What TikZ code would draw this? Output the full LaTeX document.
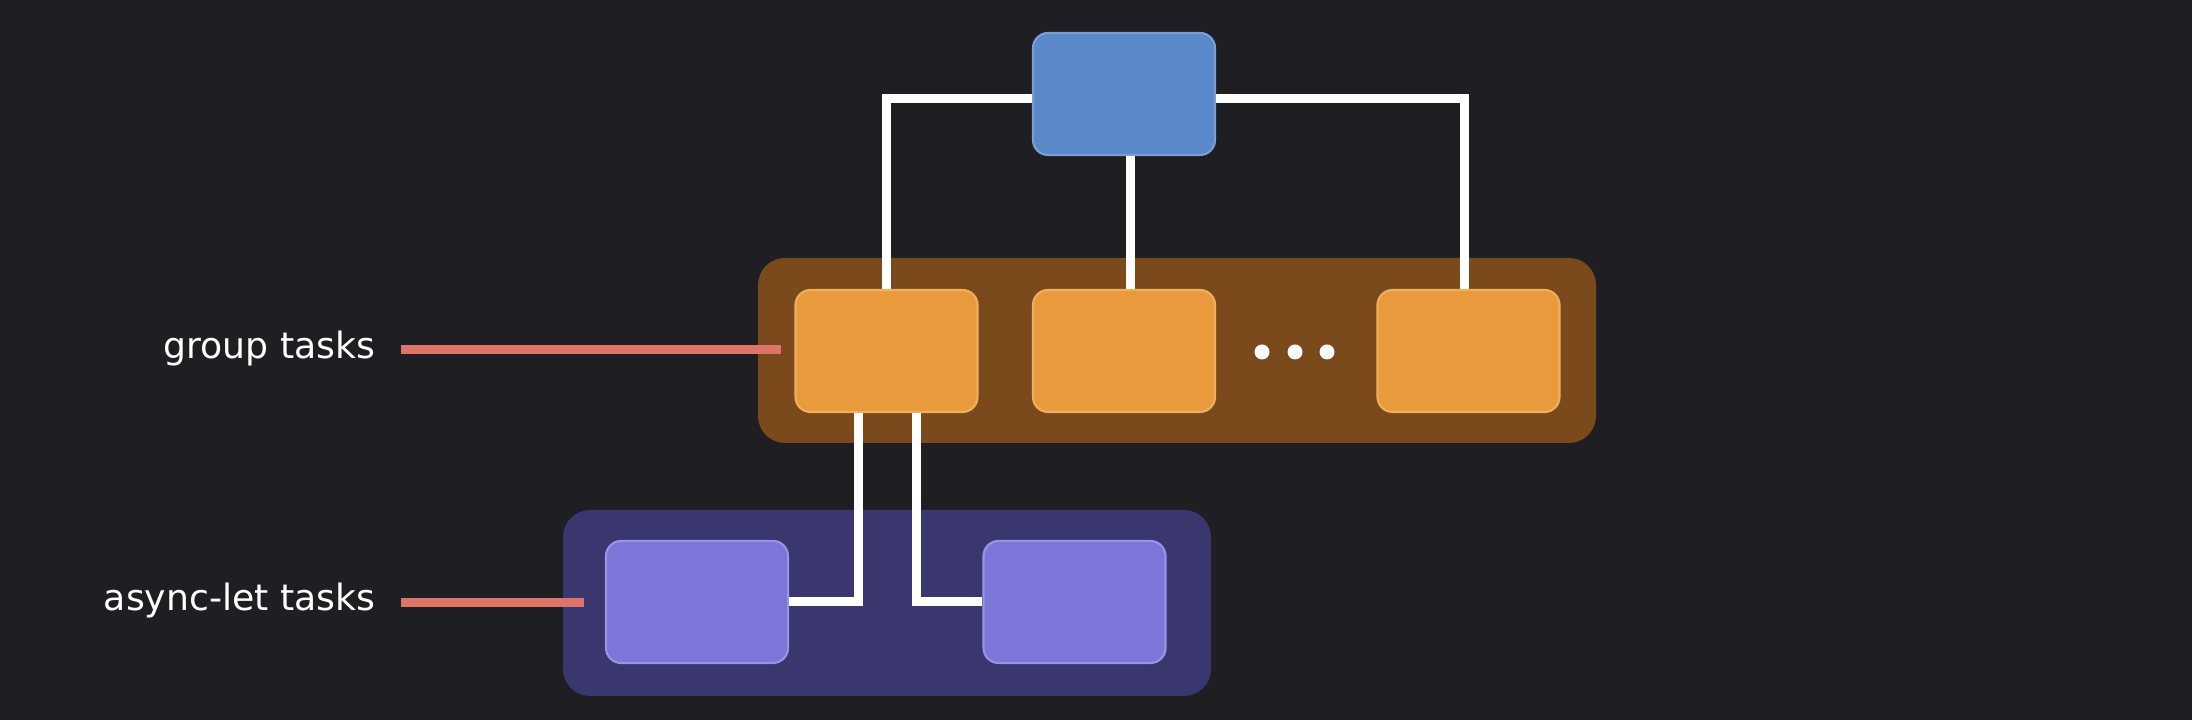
\documentclass[tikz,border=0pt]{standalone}
\usepackage{fontspec}
\setmainfont{DejaVu Sans}
\definecolor{bgdark}{HTML}{1F1E23}
\definecolor{rootblue}{HTML}{5B88C8}
\definecolor{rootedge}{HTML}{7A9ED6}
\definecolor{grpfill}{HTML}{E89A3C}
\definecolor{grpedge}{HTML}{F0AE5E}
\definecolor{grpband}{HTML}{7B4A1C}
\definecolor{asyfill}{HTML}{7B76D8}
\definecolor{asyedge}{HTML}{9894E6}
\definecolor{asyband}{HTML}{3A366E}
\definecolor{marker}{HTML}{DE7468}
\begin{document}
\begin{tikzpicture}[
    task/.style={draw, rectangle, rounded corners=0.15cm, line width=0.6pt, minimum height=1.22cm, minimum width=1.82cm, inner sep=0pt},
    band/.style={rectangle, rounded corners=0.27cm, inner sep=0pt},
    link/.style={draw=white, line width=0.09cm},
    pointer/.style={draw=marker, line width=0.09cm},
    caption/.style={text=white, inner sep=0pt, font=\fontsize{10.3}{12}\selectfont}
  ]

    % Background
    \fill[bgdark] (0,0) rectangle (21.92,7.2);
    \useasboundingbox (0,0) rectangle (21.92,7.2);

    % Bands
    \node[band, fill=grpband, minimum width=8.38cm, minimum height=1.85cm] at (11.77,3.695) (grpband) {};
    \node[band, fill=asyband, minimum width=6.48cm, minimum height=1.86cm] at (8.87,1.17)   (asyband) {};

    % Blocks
    \node[task, fill=rootblue, draw=rootedge] at (11.24,6.26)  (root) {};
    \node[task, fill=grpfill,  draw=grpedge]  at (8.865,3.69)  (grp1) {};
    \node[task, fill=grpfill,  draw=grpedge]  at (11.24,3.69)  (grp2) {};
    \node[task, fill=grpfill,  draw=grpedge]  at (14.685,3.69) (grp3) {};
    \node[task, fill=asyfill,  draw=asyedge]  at (6.97,1.18)   (asy1) {};
    \node[task, fill=asyfill,  draw=asyedge]  at (10.745,1.18) (asy2) {};

    % Dots
    \foreach \x in {12.62,12.95,13.27}
      \fill[white] (\x,3.68) circle (0.075);

    % Labels
    \node[caption, anchor=base east] at (3.76,3.61) (grplabel) {group tasks};
    \node[caption, anchor=base east] at (3.76,1.09) (asylabel) {async-let tasks};
    \coordinate (grptip) at (4.01,3.705);
    \coordinate (asytip) at (4.01,1.175);

    % Connections
    \draw[link] (grp1.north) |- ([yshift=-0.045cm]root.west);
    \draw[link] ([yshift=-0.045cm]root.east) -| ([xshift=-0.045cm]grp3.north);
    \draw[link] ([xshift=0.06cm]root.south) -- ([xshift=0.06cm]grp2.north);
    \draw[link] ([xshift=-0.285cm]grp1.south) |- (asy1.east);
    \draw[link] ([xshift=0.295cm]grp1.south) |- (asy2.west);

    % Pointers
    \draw[pointer] (grptip) -- ([xshift=-0.135cm]grptip -| grp1.west);
    \draw[pointer] (asytip) -- ([xshift=-0.21cm]asytip -| asy1.west);

  \end{tikzpicture}
\end{document}
